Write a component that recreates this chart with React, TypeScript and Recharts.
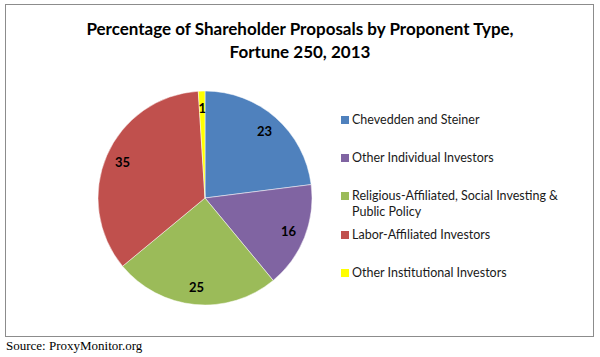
import { PieChart, Pie, Cell, Legend } from 'recharts'

const categories = [
  'Chevedden and Steiner',
  'Other Individual Investors',
  'Religious-Affiliated, Social Investing & Public Policy',
  'Labor-Affiliated Investors',
  'Other Institutional Investors',
]
const values = [23, 16, 25, 35, 1]
const colors = ['#4F81BD', '#8064A2', '#9BBB59', '#C0504D', '#FFFF00']

const data = categories.map((name, i) => ({ name, value: values[i] }))

const FONT = 'Lato, Calibri, "Open Sans", sans-serif'
const RAD = Math.PI / 180

function SliceLabel({ cx, cy, midAngle, outerRadius, value }: any) {
  const r = outerRadius * 0.84
  const x = cx + r * Math.cos(-midAngle * RAD)
  const y = cy + r * Math.sin(-midAngle * RAD)
  return (
    <text x={x} y={y} textAnchor="middle" dominantBaseline="central"
      fontFamily={FONT} fontWeight="bold" fontSize={13} fill="#000">
      {value}
    </text>
  )
}

// rows have different gaps because the third entry wraps to two lines
const legendTops = [112, 150, 188, 227, 265]

function LegendBox() {
  return (
    <div style={{ position: 'relative', width: 240, height: 180 }}>
      {data.map((d, i) => (
        <div key={d.name} style={{
          position: 'absolute', left: 0, top: legendTops[i] - 110, display: 'flex',
          alignItems: 'flex-start', fontFamily: FONT, fontSize: 12.5, color: '#1a1a1a',
          lineHeight: '16px', width: 240,
        }}>
          <span style={{ display: 'inline-block', width: 8, height: 8, marginTop: 4, marginRight: 3, background: colors[i], flex: 'none' }} />
          <span>{d.name}</span>
        </div>
      ))}
    </div>
  )
}

export default function App() {
  return (
    <div style={{ position: 'fixed', left: 0, top: 0, width: 600, height: 357, background: '#fff' }}>
      <div style={{
        position: 'absolute', left: 5, top: 4, width: 587, height: 331,
        border: '1px solid #8c8c8c',
      }} />
      <div style={{
        position: 'absolute', left: 0, top: 17, width: 600, textAlign: 'center',
        fontFamily: FONT, fontWeight: 'bold', fontSize: 17, lineHeight: '23px', color: '#000',
      }}>
        Percentage of Shareholder Proposals by Proponent Type,<br />Fortune 250, 2013
      </div>
      <div style={{ position: 'absolute', left: 0, top: 0 }}>
        <PieChart width={600} height={337} margin={{ top: 0, right: 0, bottom: 0, left: 0 }}>
          <Pie data={data} dataKey="value" nameKey="name" cx={205} cy={198}
            outerRadius={107} startAngle={90} endAngle={-270}
            stroke="#ffffff" strokeWidth={0.5}
            label={SliceLabel} labelLine={false} isAnimationActive={false}>
            {data.map((d, i) => <Cell key={d.name} fill={colors[i]} />)}
          </Pie>
          <Legend content={() => <LegendBox />}
            wrapperStyle={{ left: 341, top: 110, width: 240 }} />
        </PieChart>
      </div>
      <div style={{
        position: 'absolute', left: 6, top: 338, fontFamily: '"Liberation Serif", "Times New Roman", serif',
        fontSize: 13, color: '#000',
      }}>
        Source: ProxyMonitor.org
      </div>
    </div>
  )
}
